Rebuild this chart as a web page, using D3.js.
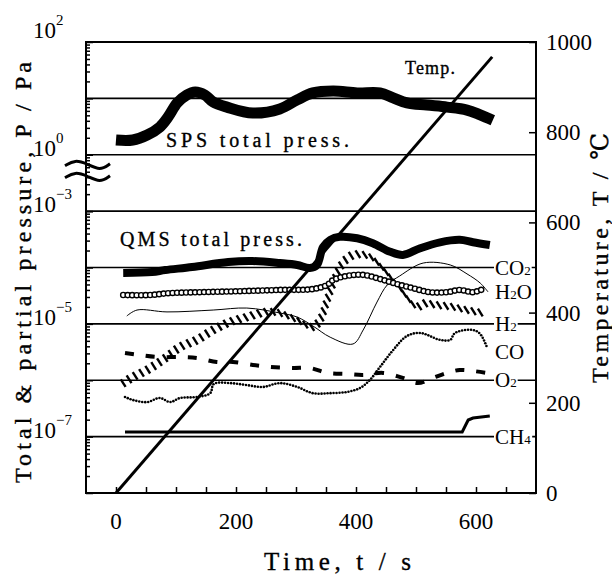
<!DOCTYPE html>
<html>
<head>
<meta charset="utf-8">
<script src="https://d3js.org/d3.v7.min.js"></script>
<style>
  body { margin: 0; background: #fff; }
  text { fill: #000; }
</style>
</head>
<body>
<svg id="chart" width="612" height="576"></svg>
<script>
// ---- data (time in s, pressure in Pa, temperature in degC) ----
var timeTicks = [0, 200, 400, 600];
var tempTicks = [0, 200, 400, 600, 800, 1000];
var spsDecades = [100, 1];
var qmsDecades = [1e-3, 1e-5, 1e-7];

var tempT = [0, 627];
var tempC = [0, 967];

var spsT = [0, 28, 52, 73, 87, 102, 118, 132, 148, 162, 185, 228, 273, 302, 328, 362, 402, 440, 462, 485, 518, 552, 585, 607, 628];
var spsP = [1.83, 1.83, 2.24, 3.1, 4.7, 8.3, 11.5, 13.0, 11.5, 8.6, 7.0, 5.5, 6.5, 9.4, 12.5, 13.5, 12.5, 12.5, 10.2, 8.3, 7.6, 7.0, 6.2, 5.1, 4.1];

var qmsT = [12, 60, 82, 127, 187, 227, 273, 302, 323, 335, 345, 357, 373, 402, 428, 457, 478, 507, 540, 573, 595, 623];
var qmsP = [8.0e-5, 8.3e-5, 9.0e-5, 1.02e-4, 1.25e-4, 1.3e-4, 1.2e-4, 1.11e-4, 9.8e-5, 1.11e-4, 2.3e-4, 3.1e-4, 3.5e-4, 3.3e-4, 2.7e-4, 1.9e-4, 1.67e-4, 2.2e-4, 2.8e-4, 3.1e-4, 2.8e-4, 2.5e-4];

var co2T = [18, 35, 85, 162, 218, 273, 302, 328, 357, 395, 412, 435, 452, 473, 512, 557, 585, 607, 620];
var co2P = [1.38e-5, 1.76e-5, 1.63e-5, 1.76e-5, 1.91e-5, 1.56e-5, 1.32e-5, 9.2e-6, 5.8e-6, 4.4e-6, 7.8e-6, 2.44e-5, 4.9e-5, 7.1e-5, 1.2e-4, 1.11e-4, 7.7e-5, 5.3e-5, 3.7e-5];

var h2oT = [12, 57, 87, 140, 207, 273, 328, 352, 362, 385, 412, 440, 468, 495, 523, 552, 573, 595, 612];
var h2oP = [3.25e-5, 3.25e-5, 3.5e-5, 3.65e-5, 3.8e-5, 4.0e-5, 4.15e-5, 4.9e-5, 6.0e-5, 7.1e-5, 7.4e-5, 6.25e-5, 5.1e-5, 4.3e-5, 3.65e-5, 3.65e-5, 4.0e-5, 3.65e-5, 4.15e-5];

var h2T = [12, 28, 52, 85, 107, 135, 162, 190, 218, 252, 273, 302, 328, 340, 352, 362, 378, 395, 415, 427, 465, 502, 512, 535, 562, 585, 612];
var h2P = [8.9e-7, 1.14e-6, 1.52e-6, 2.6e-6, 3.9e-6, 5.2e-6, 7.8e-6, 1.08e-5, 1.32e-5, 1.63e-5, 1.56e-5, 1.17e-5, 8.8e-6, 1.17e-5, 2.65e-5, 5.3e-5, 1.2e-4, 1.67e-4, 1.67e-4, 1.48e-4, 5.5e-5, 2.0e-5, 2.3e-5, 2.16e-5, 2.0e-5, 1.76e-5, 1.56e-5];

var coT = [15, 28, 52, 73, 90, 107, 135, 157, 163, 190, 218, 245, 273, 302, 328, 357, 385, 407, 423, 440, 462, 485, 507, 540, 557, 565, 595, 607, 618];
var coP = [5.05e-7, 4.47e-7, 4.1e-7, 4.85e-7, 4.1e-7, 4.85e-7, 5.05e-7, 5.9e-7, 8.6e-7, 8.9e-7, 8.2e-7, 7.6e-7, 8.9e-7, 7.6e-7, 5.9e-7, 5.9e-7, 6.2e-7, 7.3e-7, 1.01e-6, 1.72e-6, 3.44e-6, 6.1e-6, 6.9e-6, 5.2e-6, 5.2e-6, 6.9e-6, 7.8e-6, 6.6e-6, 3.9e-6];

var o2T = [15, 40, 70, 107, 135, 168, 195, 228, 257, 295, 323, 352, 385, 412, 445, 478, 503, 528, 552, 573, 595, 618];
var o2P = [3.04e-6, 2.8e-6, 2.58e-6, 2.58e-6, 2.48e-6, 2.11e-6, 2.11e-6, 1.87e-6, 1.72e-6, 1.65e-6, 1.65e-6, 1.35e-6, 1.29e-6, 1.24e-6, 1.35e-6, 1.1e-6, 8.9e-7, 1.1e-6, 1.35e-6, 1.52e-6, 1.46e-6, 1.35e-6];

var ch4T = [15, 577, 587, 595, 623];
var ch4P = [1.21e-7, 1.21e-7, 1.97e-7, 2.14e-7, 2.32e-7];

var gasNames = [["CO", "2"], ["H", "2", "O"], ["H", "2"], ["CO"], ["O", "2"], ["CH", "4"]];
var gasLabelP = [1e-4, 3.7e-5, 1e-5, 3.2e-6, 1e-6, 1e-7];

// ---- layout ----
var svg = d3.select("#chart");
var pL = 86, pR = 536, pT = 42, pB = 493;

var x = d3.scaleLinear().domain([-50, 700]).range([pL, pR]);
var yT = d3.scaleLinear().domain([0, 1000]).range([pB, pT]);
var dec = (pB - pT) / 8;
var ySPS = d3.scaleLog().domain([1, 100]).range([pT + 2 * dec, pT]);
var ySPSext = d3.scaleLog().domain([0.1, 100]).range([pT + 3 * dec, pT]);
var yQMS = d3.scaleLog().domain([1e-8, 1e-3]).range([pB, pT + 3 * dec]);

function zip(a, b) { return a.map(function (v, i) { return [v, b[i]]; }); }

// grid lines at the decades
var gridY = [ySPS(10), ySPS(1)].concat([1e-3, 1e-4, 1e-5, 1e-6, 1e-7].map(function (d) { return yQMS(d); }));
svg.selectAll(".grid").data(gridY).enter().append("line")
    .attr("x1", pL).attr("x2", pR)
    .attr("y1", function (d) { return d; }).attr("y2", function (d) { return d; })
    .attr("stroke", "#000").attr("stroke-width", 1.6);

// frame
svg.append("rect").attr("x", pL).attr("y", pT)
    .attr("width", pR - pL).attr("height", pB - pT)
    .attr("fill", "none").attr("stroke", "#000").attr("stroke-width", 2);

// inward ticks
var gx = svg.append("g").attr("transform", "translate(0," + pB + ")")
    .call(d3.axisBottom(x).tickValues(d3.range(0, 651, 50)).tickSize(-6).tickFormat(""));
var gr = svg.append("g").attr("transform", "translate(" + pR + ",0)")
    .call(d3.axisRight(yT).tickValues(tempTicks).tickSize(-7).tickFormat(""));
var gl1 = svg.append("g").attr("transform", "translate(" + pL + ",0)")
    .call(d3.axisLeft(ySPSext).ticks(10).tickSize(-4).tickFormat(""));
var gl2 = svg.append("g").attr("transform", "translate(" + pL + ",0)")
    .call(d3.axisLeft(yQMS).ticks(10).tickSize(-4).tickFormat(""));
[gx, gr, gl1, gl2].forEach(function (g) {
    g.select(".domain").remove();
    g.selectAll("line").attr("stroke", "#000").attr("stroke-width", 1.5);
});
[gl1, gl2].forEach(function (g) {
    g.selectAll(".tick line").attr("x2", function (d) {
        return Math.abs(Math.log10(d) - Math.round(Math.log10(d))) < 1e-6 ? 7 : 4;
    });
});

// tick labels
var numFont = "'Liberation Serif', 'Times New Roman', serif";
svg.selectAll(".xl").data(timeTicks).enter().append("text")
    .attr("x", function (d) { return x(d); }).attr("y", 529)
    .attr("text-anchor", "middle").attr("font-family", numFont).attr("font-size", 23)
    .text(function (d) { return d; });
svg.selectAll(".tl").data(tempTicks).enter().append("text")
    .attr("x", pR + 10).attr("y", function (d) { return yT(d) + 8; })
    .attr("font-family", numFont).attr("font-size", 23)
    .text(function (d) { return d; });

function powLabel(y, exp) {
    var t = svg.append("text").attr("x", 33).attr("y", y)
        .attr("font-family", numFont).attr("font-size", 23);
    t.append("tspan").text("10");
    t.append("tspan").attr("dy", -13).attr("font-size", 15).text(exp);
}
// the top label sits just above the frame
spsDecades.forEach(function (d) { powLabel(d === 100 ? ySPS(d) - 4 : ySPS(d) + 1, Math.round(Math.log10(d))); });
qmsDecades.forEach(function (d) { powLabel(yQMS(d) + 1, "\u2212" + Math.round(-Math.log10(d))); });

// axis break mark
var breakY = ySPS(1) + 11;
var wave = [[-21, 0], [-11, -6], [1, -2], [14, 5], [24, -2]];
[0, 12].forEach(function (off) {
    svg.append("path")
        .attr("d", d3.line().curve(d3.curveBasis)(wave.map(function (p) { return [pL + p[0], breakY + off + p[1]]; })))
        .attr("fill", "none").attr("stroke", "#000").attr("stroke-width", 3);
});

// ---- series ----
var line = d3.line().curve(d3.curveCatmullRom);
function spsLine(ts, ps) { return line(zip(ts, ps).map(function (d) { return [x(d[0]), ySPS(d[1])]; })); }
function qmsPts(ts, ps) { return zip(ts, ps).map(function (d) { return [x(d[0]), yQMS(d[1])]; }); }

function along(pts, step) {
    var p = svg.append("path").attr("d", line(pts)).attr("fill", "none").attr("stroke", "none");
    var node = p.node(), L = node.getTotalLength(), out = [];
    for (var s = 0; s <= L; s += step) { var q = node.getPointAtLength(s); out.push([q.x, q.y]); }
    p.remove();
    return out;
}

// CH4
svg.append("path").attr("d", d3.line()(qmsPts(ch4T, ch4P)))
    .attr("fill", "none").attr("stroke", "#000").attr("stroke-width", 3);

// O2 (dashed)
svg.append("path").attr("d", line(qmsPts(o2T, o2P)))
    .attr("fill", "none").attr("stroke", "#000").attr("stroke-width", 4)
    .attr("stroke-dasharray", "9,12");

// CO (dotted)
svg.selectAll(".co").data(along(qmsPts(coT, coP), 3)).enter().append("circle")
    .attr("cx", function (d) { return d[0]; }).attr("cy", function (d) { return d[1]; })
    .attr("r", 1.3).attr("fill", "#000");

// CO2 (thin line)
svg.append("path").attr("d", line(qmsPts(co2T, co2P)))
    .attr("fill", "none").attr("stroke", "#000").attr("stroke-width", 1);

// H2 (slanted hatch marks)
svg.selectAll(".h2").data(along(qmsPts(h2T, h2P), 7)).enter().append("line")
    .attr("x1", function (d) { return d[0] - 2.4; }).attr("y1", function (d) { return d[1] - 3.8; })
    .attr("x2", function (d) { return d[0] + 2.4; }).attr("y2", function (d) { return d[1] + 3.8; })
    .attr("stroke", "#000").attr("stroke-width", 2.4);

// H2O (open circles)
svg.selectAll(".h2o").data(along(qmsPts(h2oT, h2oP), 4.5)).enter().append("circle")
    .attr("cx", function (d) { return d[0]; }).attr("cy", function (d) { return d[1]; })
    .attr("r", 2.6).attr("fill", "#fff").attr("stroke", "#000").attr("stroke-width", 1.4);

// QMS total pressure
svg.append("path").attr("d", line(qmsPts(qmsT, qmsP)))
    .attr("fill", "none").attr("stroke", "#000").attr("stroke-width", 8)
    .attr("stroke-linejoin", "round");

// SPS total pressure
svg.append("path").attr("d", spsLine(spsT, spsP))
    .attr("fill", "none").attr("stroke", "#000").attr("stroke-width", 11)
    .attr("stroke-linejoin", "round");

// temperature
svg.append("path").attr("d", d3.line()(zip(tempT, tempC).map(function (d) { return [x(d[0]), yT(d[1])]; })))
    .attr("fill", "none").attr("stroke", "#000").attr("stroke-width", 3);

// ---- labels ----
var serif = "'Liberation Serif', 'DejaVu Serif', serif";
function spaced(sel, size, len) {
    return sel.attr("font-family", serif).attr("font-size", size)
        .attr("textLength", len).attr("lengthAdjust", "spacing")
        .attr("stroke", "#000").attr("stroke-width", 0.35);
}
spaced(svg.append("text").attr("x", 166).attr("y", 147), 20, 183).text("SPS total press.");
spaced(svg.append("text").attr("x", 120).attr("y", 246), 20, 182).text("QMS total press.");
spaced(svg.append("text").attr("x", 405).attr("y", 74), 18, 50).text("Temp.");

gasNames.forEach(function (parts, i) {
    var t = svg.append("text").attr("x", 495).attr("y", yQMS(gasLabelP[i]) + 7)
        .attr("font-family", numFont).attr("font-size", 21);
    t.append("tspan").text(parts[0]);
    if (parts[1]) t.append("tspan").attr("font-size", 13).text(parts[1]);
    if (parts[2]) t.append("tspan").text(parts[2]);
    var b = t.node().getBBox();
    svg.insert("rect", function () { return t.node(); })
        .attr("x", b.x - 1).attr("y", b.y + 3).attr("width", b.width + 2).attr("height", b.height - 5)
        .attr("fill", "#fff");
});

// axis titles
spaced(svg.append("text").attr("x", 264).attr("y", 570), 25, 147).text("Time, t / s");
spaced(svg.append("text").attr("transform", "translate(31,483) rotate(-90)"), 24, 421)
    .text("Total & partial pressure, P / Pa");
spaced(svg.append("text").attr("transform", "translate(608,383) rotate(-90)"), 24, 250)
    .text("Temperature, T / \u2103");
</script>
</body>
</html>
